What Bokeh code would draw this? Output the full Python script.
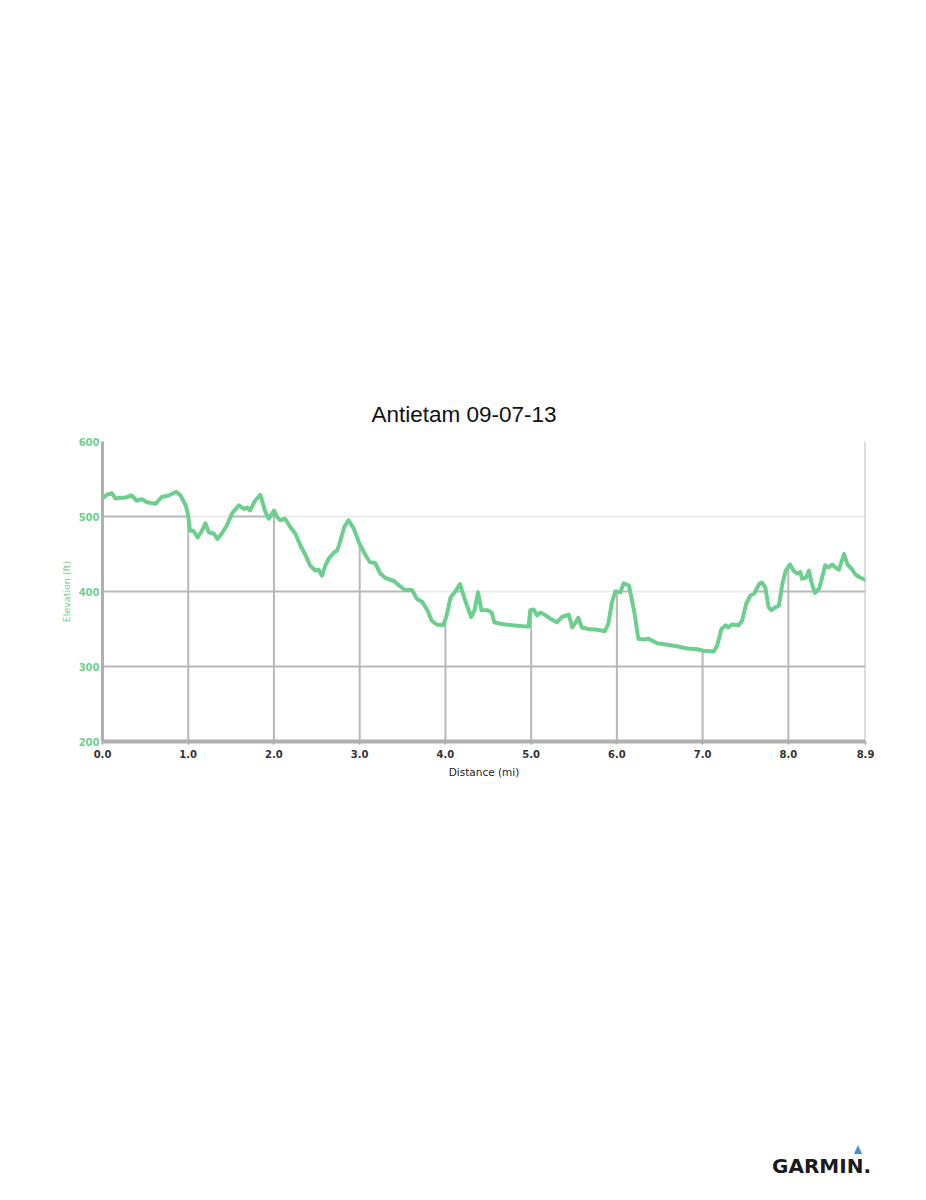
import numpy as np
from bokeh.plotting import figure
from bokeh.models import Range1d, FixedTicker, NumeralTickFormatter, Span, Div
from bokeh.layouts import column
from bokeh.embed import file_html
from bokeh.resources import INLINE

title_text = "Antietam 09-07-13"
x_label = "Distance (mi)"
y_label = "Elevation (ft)"
logo_text = "GARMIN."

distance_mi = [
    0.00, 0.05, 0.11, 0.15, 0.21, 0.26, 0.34, 0.40, 0.46, 0.52, 0.62, 0.69, 0.77, 0.81, 0.86, 0.91,
    0.97, 1.00, 1.02, 1.06, 1.11, 1.16, 1.20, 1.24, 1.30, 1.34, 1.39, 1.45, 1.51, 1.59, 1.65, 1.69,
    1.72, 1.78, 1.84, 1.90, 1.94, 2.00, 2.04, 2.07, 2.13, 2.19, 2.25, 2.31, 2.37, 2.42, 2.48, 2.52,
    2.56, 2.60, 2.64, 2.70, 2.74, 2.77, 2.82, 2.87, 2.93, 2.99, 3.01, 3.07, 3.12, 3.18, 3.24, 3.30,
    3.40, 3.47, 3.53, 3.61, 3.67, 3.73, 3.79, 3.84, 3.90, 3.97, 4.01, 4.06, 4.12, 4.17, 4.23, 4.30,
    4.34, 4.38, 4.42, 4.49, 4.54, 4.57, 4.64, 4.70, 4.78, 4.87, 4.97, 4.99, 5.03, 5.07, 5.11, 5.17,
    5.22, 5.30, 5.36, 5.44, 5.48, 5.52, 5.55, 5.59, 5.67, 5.77, 5.86, 5.90, 5.94, 5.98, 6.04, 6.08,
    6.14, 6.20, 6.25, 6.31, 6.37, 6.47, 6.59, 6.70, 6.82, 6.94, 7.01, 7.13, 7.17, 7.22, 7.27, 7.30,
    7.34, 7.42, 7.46, 7.51, 7.56, 7.60, 7.66, 7.69, 7.73, 7.77, 7.80, 7.85, 7.89, 7.93, 7.97, 8.02,
    8.06, 8.10, 8.14, 8.16, 8.21, 8.24, 8.27, 8.31, 8.36, 8.39, 8.43, 8.47, 8.51, 8.55, 8.59, 8.65,
    8.69, 8.74, 8.78, 8.83, 8.89, 8.90,
]
elevation_ft = [
    524, 529, 531, 524, 525, 525, 528, 521, 523, 519, 517, 526, 528, 530, 533, 528,
    515, 501, 481, 481, 472, 481, 491, 479, 477, 470, 477, 488, 504, 515, 510, 512,
    508, 521, 529, 506, 497, 508, 499, 495, 497, 486, 477, 461, 448, 435, 428, 429,
    421, 435, 444, 452, 455, 466, 486, 495, 484, 466, 461, 448, 439, 438, 424, 418,
    414, 407, 402, 402, 390, 386, 375, 361, 356, 355, 366, 392, 401, 410, 388, 366,
    375, 399, 375, 375, 372, 359, 357, 356, 355, 354, 353, 375, 376, 368, 372, 368,
    364, 359, 366, 369, 352, 359, 365, 352, 350, 349, 347, 357, 384, 400, 399, 411,
    408, 375, 337, 336, 337, 331, 329, 327, 324, 323, 321, 320, 328, 350, 355, 352,
    356, 355, 361, 384, 395, 397, 410, 412, 406, 379, 375, 379, 381, 410, 428, 436,
    428, 424, 426, 417, 419, 428, 412, 398, 404, 417, 435, 432, 436, 432, 429, 450,
    436, 430, 423, 419, 416, 415,
]
x_ticks = [0, 1, 2, 3, 4, 5, 6, 7, 8, 8.9]
y_ticks = [200, 300, 400, 500, 600]
grid_x = [1, 2, 3, 4, 5, 6, 7, 8]
grid_y = [300, 400, 500]

GREEN = "#6dcf8e"
GRID = "#b8b8b8"
AXIS = "#b0b0b0"
FONT = "DejaVu Sans"
BL, BR = 102, 45

p = figure(width=910, height=790, x_range=Range1d(0, 8.9), y_range=Range1d(200, 600),
           output_backend="svg", toolbar_location=None, title=title_text,
           min_border_left=BL, min_border_right=BR, min_border_top=441, min_border_bottom=49)
p.outline_line_color = None
p.background_fill_color = "white"
p.border_fill_color = "white"

p.title.text_font = "Liberation Sans"
p.title.text_font_size = "22.5px"
p.title.text_font_style = "normal"
p.title.text_color = "#111111"
p.title.align = "left"
p.title.offset = 269
p.title.standoff = 29

p.xgrid.grid_line_color = None
p.ygrid.ticker = FixedTicker(ticks=grid_y)
p.ygrid.grid_line_color = GRID
p.ygrid.grid_line_width = 2

# x axis
p.xaxis.ticker = FixedTicker(ticks=x_ticks)
p.xaxis.formatter = NumeralTickFormatter(format="0.0")
p.xaxis.axis_line_color = AXIS
p.xaxis.axis_line_width = 4
p.xaxis.major_tick_line_color = AXIS
p.xaxis.major_tick_line_width = 2
p.xaxis.major_tick_in = 0
p.xaxis.major_tick_out = 3
p.xaxis.minor_tick_line_color = None
p.xaxis.major_label_text_font = FONT
p.xaxis.major_label_text_font_style = "bold"
p.xaxis.major_label_text_font_size = "10px"
p.xaxis.major_label_text_color = "#333333"
p.xaxis.major_label_standoff = 5
p.xaxis.axis_label = x_label
p.xaxis.axis_label_text_font = FONT
p.xaxis.axis_label_text_font_style = "normal"
p.xaxis.axis_label_text_font_size = "10.5px"
p.xaxis.axis_label_text_color = "#222222"
p.xaxis.axis_label_standoff = 5

# y axis
p.yaxis.ticker = FixedTicker(ticks=y_ticks)
p.yaxis.axis_line_color = AXIS
p.yaxis.axis_line_width = 3
p.yaxis.major_tick_line_color = None
p.yaxis.major_tick_in = 0
p.yaxis.major_tick_out = 0
p.yaxis.minor_tick_line_color = None
p.yaxis.major_label_text_font = FONT
p.yaxis.major_label_text_font_style = "bold"
p.yaxis.major_label_text_font_size = "10px"
p.yaxis.major_label_text_color = GREEN
p.yaxis.major_label_standoff = 3
p.yaxis.axis_label = y_label
p.yaxis.axis_label_text_font = FONT
p.yaxis.axis_label_text_font_style = "normal"
p.yaxis.axis_label_text_font_size = "9.5px"
p.yaxis.axis_label_text_color = GREEN
p.yaxis.axis_label_standoff = 4

# vertical grid lines only below the profile
grid_top = np.interp(grid_x, distance_mi, elevation_ft)
p.segment(x0=grid_x, y0=[200] * len(grid_x), x1=grid_x, y1=grid_top,
          line_color=GRID, line_width=2)
# lighten horizontal grid above the profile
p.varea(x=distance_mi, y1=elevation_ft, y2=[600] * len(distance_mi),
        fill_color="white", fill_alpha=0.73)

p.add_layout(Span(location=8.9, dimension="height", line_color="#bdbdbd", line_width=2))

p.line(distance_mi, elevation_ft, line_color=GREEN, line_width=4,
       line_join="round", line_cap="round")

# logo below the chart
logo_html = (
    '<div style="position:relative;width:910px;height:402px;">'
    '<span style="position:absolute;left:849px;top:350px;width:0;height:0;'
    'border-left:4px solid transparent;border-right:4px solid transparent;'
    'border-bottom:9px solid #3d8fe0;"></span>'
    '<span style="position:absolute;left:767px;top:361px;font-family:\'DejaVu Sans\';'
    'font-weight:bold;font-size:20px;line-height:20px;color:#1a1a1a;white-space:nowrap;">'
    + logo_text + '</span></div>'
)
logo = Div(text=logo_html, width=910, height=402)

layout = column(p, logo)
open("out.html", "w").write(file_html(layout, INLINE))
